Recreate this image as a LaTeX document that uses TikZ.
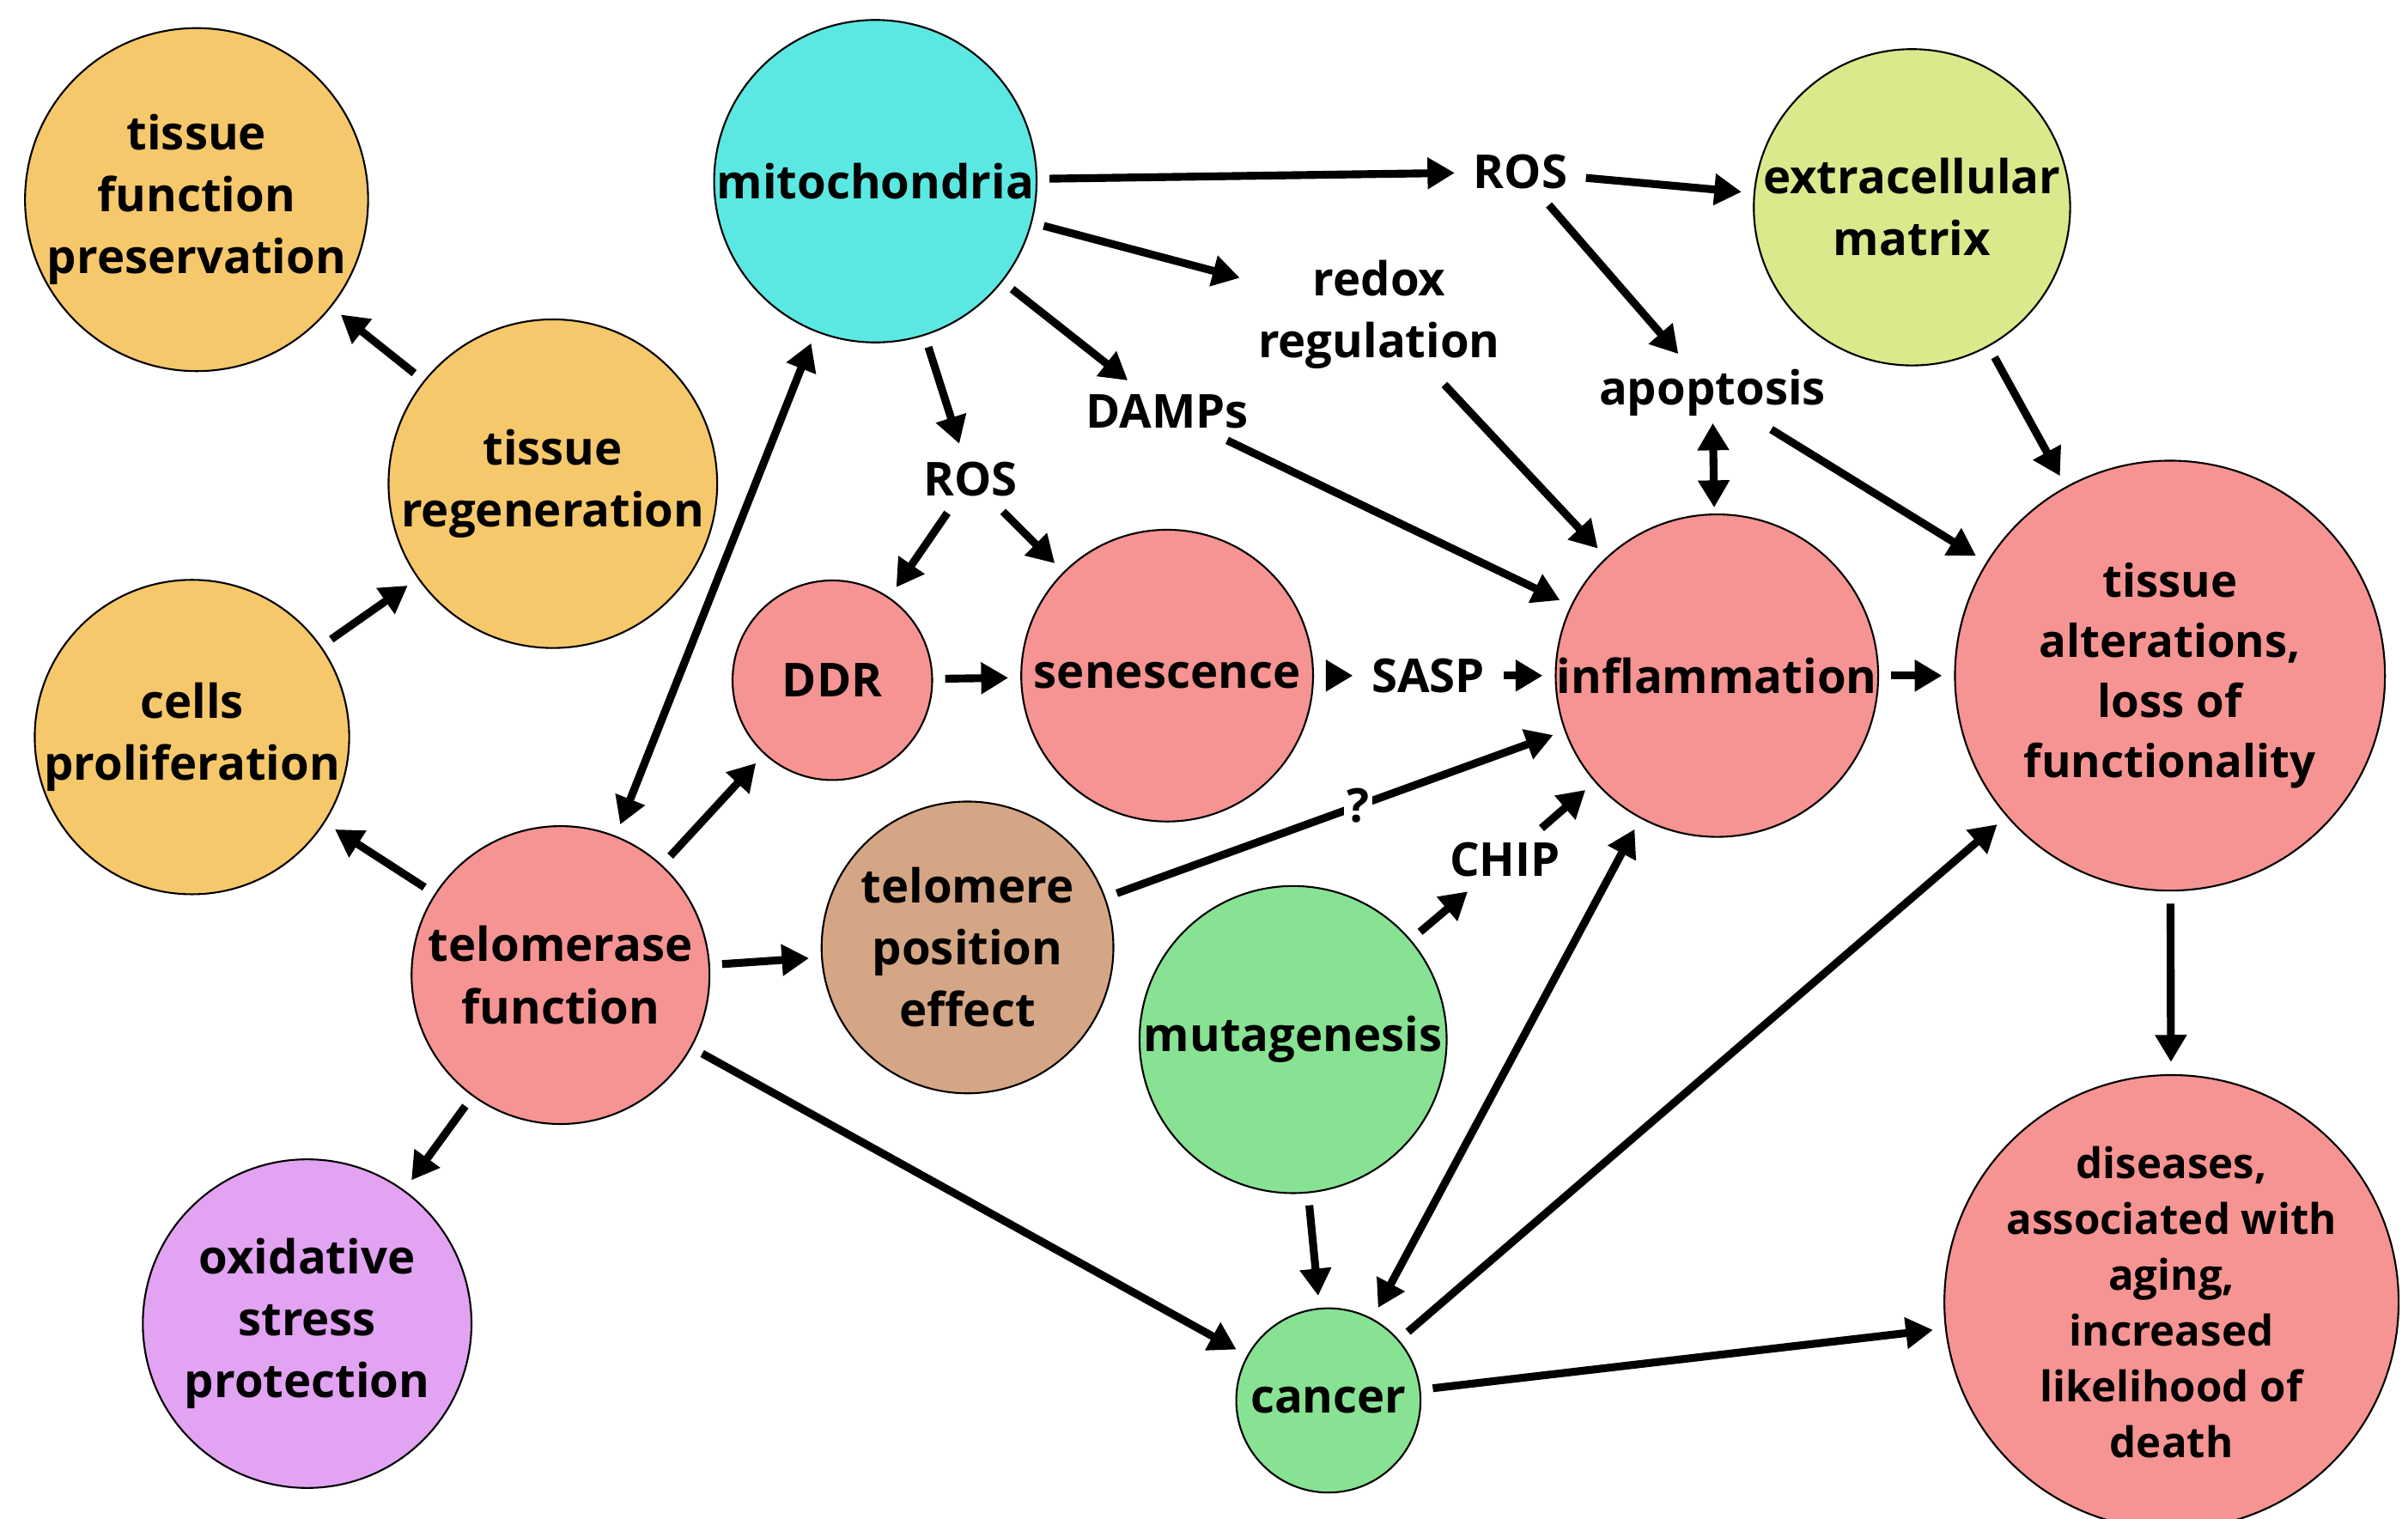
\documentclass[tikz,border=0pt]{standalone}
\usepackage{fontspec}
\setmainfont{Open Sans}
\usetikzlibrary{arrows.meta}
\definecolor{orng}{HTML}{F6C86C}
\definecolor{cyn}{HTML}{5CE8E2}
\definecolor{lime}{HTML}{D9E98C}
\definecolor{salm}{HTML}{F59492}
\definecolor{tan}{HTML}{D5A685}
\definecolor{grn}{HTML}{88E293}
\definecolor{purp}{HTML}{E2A3F2}
\tikzset{
  blob/.style={circle, draw=black, line width=0.6pt, fill=#1, align=center, inner sep=0pt},
  lbl/.style={align=center, inner sep=2pt},
  arr/.style={-{Triangle[length=9pt,width=10pt]}, line width=2.6pt, shorten >=4pt, shorten <=4pt},
  darr/.style={{Triangle[length=9pt,width=10pt]}-{Triangle[length=9pt,width=10pt]}, line width=2.6pt, shorten >=4pt, shorten <=4pt}
}
\begin{document}
\begin{tikzpicture}[x=0.01788cm, y=-0.01788cm, font=\fontsize{15.5}{20.5}\selectfont\bfseries]
        \useasboundingbox (0,0) rectangle (1568,989);
        % circles
        \node[blob=orng, minimum size=214*0.01788cm] (tfp) at (128,130) {tissue\\function\\preservation};
        \node[blob=orng, minimum size=214*0.01788cm] (treg) at (360,315) {tissue\\regeneration};
        \node[blob=orng, minimum size=194*0.01788cm] (prol) at (125,480) {cells\\proliferation};
        \node[blob=cyn, minimum size=210*0.01788cm] (mito) at (570,118) {mitochondria};
        \node[blob=lime, minimum size=206*0.01788cm] (ecm) at (1245,135) {extracellular\\matrix};
        \node[blob=salm, minimum size=130*0.01788cm] (ddr) at (542,443) {DDR};
        \node[blob=salm, minimum size=190*0.01788cm] (sen) at (760,440) {senescence};
        \node[blob=salm, minimum size=210*0.01788cm] (infl) at (1118,440) {inflammation};
        \node[blob=salm, minimum size=280*0.01788cm, font=\fontsize{15}{20}\selectfont\bfseries] (talt) at (1413,440) {tissue\\alterations,\\loss of\\functionality};
        \node[blob=salm, minimum size=194*0.01788cm] (telo) at (365,635) {telomerase\\function};
        \node[blob=tan, minimum size=190*0.01788cm] (tpe) at (630,617) {telomere\\position\\effect};
        \node[blob=grn, minimum size=200*0.01788cm] (muta) at (842,677) {mutagenesis};
        \node[blob=purp, minimum size=214*0.01788cm] (oxi) at (200,862) {oxidative\\stress\\protection};
        \node[blob=grn, minimum size=120*0.01788cm] (canc) at (865,912) {cancer};
        \node[blob=salm, minimum size=280*0.01788cm, font=\fontsize{14}{18.5}\selectfont\bfseries] (dis) at (1414,848) {diseases,\\associated with\\aging,\\increased\\likelihood of\\death};
        % free labels
        \node[lbl] (rosa) at (990,112) {ROS};
        \node[lbl] (redox) at (898,205) {redox\\regulation};
        \node[lbl] (damp) at (760,268) {DAMPs};
        \node[lbl] (rosb) at (632,312) {ROS};
        \node[lbl] (apop) at (1115,256) {apoptosis};
        \node[lbl] (sasp) at (930,440) {SASP};
        \node[lbl] (chip) at (980,560) {CHIP};
        % arrows
        \draw[arr] (mito) -- (rosa);
        \draw[arr] (rosa) -- (ecm);
        \draw[arr] (rosa) -- (apop);
        \draw[arr] (mito) -- (redox);
        \draw[arr] (mito) -- (damp);
        \draw[arr] (mito) -- (rosb);
        \draw[arr] (rosb) -- (ddr);
        \draw[arr] (rosb) -- (sen);
        \draw[arr] (damp) -- (infl);
        \draw[arr] (redox) -- (infl);
        \draw[darr, shorten >=2pt, shorten <=0pt] (apop) -- (infl);
        \draw[arr] (apop) -- (talt);
        \draw[arr] (ecm) -- (talt);
        \draw[arr] (ddr) -- (sen);
        \draw[arr] (sen) -- (sasp);
        \draw[arr] (sasp) -- (infl);
        \draw[arr] (infl) -- (talt);
        \draw[arr] (talt) -- (dis);
        \draw[darr] (telo) -- (mito);
        \draw[arr] (telo) -- (ddr);
        \draw[arr] (telo) -- (prol);
        \draw[arr] (telo) -- (tpe);
        \draw[arr] (telo) -- (oxi);
        \draw[arr] (telo) -- (canc);
        \draw[arr] (tpe) -- node[pos=0.55, fill=white, inner sep=1pt] (qm) {?} (infl);
        \draw[arr] (muta) -- (chip);
        \draw[arr] (chip) -- (infl);
        \draw[arr] (muta) -- (canc);
        \draw[darr] (canc) -- (infl);
        \draw[arr] (canc) -- (talt);
        \draw[arr] (canc) -- (dis);
        \draw[arr] (prol) -- (treg);
        \draw[arr] (treg) -- (tfp);
\end{tikzpicture}
\end{document}
